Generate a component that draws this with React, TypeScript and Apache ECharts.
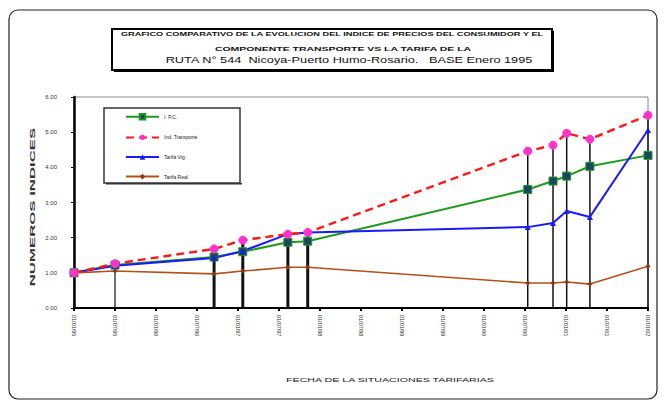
import React, { useEffect, useRef } from "react";
import * as echarts from "echarts";

// Meses transcurridos desde enero 1995 (base) para cada situación tarifaria
const fechasMeses = [0, 6, 20.5, 24.7, 31.3, 34.2, 66.4, 70.1, 72.1, 75.5, 84];
const ipc = [1.0, 1.22, 1.45, 1.6, 1.87, 1.9, 3.37, 3.61, 3.75, 4.03, 4.34];
const indTransporte = [1.0, 1.26, 1.68, 1.93, 2.1, 2.15, 4.46, 4.63, 4.97, 4.8, 5.48];
const tarifaVig = [1.0, 1.2, 1.42, 1.62, 2.1, 2.15, 2.3, 2.42, 2.76, 2.59, 5.06];
const tarifaReal = [1.0, 1.05, 0.97, 1.05, 1.16, 1.16, 0.71, 0.71, 0.74, 0.68, 1.19];

const xTickLabels = [
  "01/01/95", "01/07/95", "01/01/96", "01/07/96", "01/01/97", "01/07/97", "01/01/98", "01/07/98",
  "01/01/99", "01/07/99", "01/01/00", "01/07/00", "01/01/01", "01/07/01", "01/01/02",
];
const seriesNames = ["I. P.C.", "Ind. Transporte", "Tarifa Vig.", "Tarifa Real"];

const titleLines = [
  "GRAFICO COMPARATIVO DE LA EVOLUCION DEL INDICE DE PRECIOS DEL CONSUMIDOR Y EL",
  "COMPONENTE TRANSPORTE VS LA TARIFA DE LA",
  "RUTA N° 544  Nicoya-Puerto Humo-Rosario.   BASE Enero 1995",
];
const xAxisTitle = "FECHA DE LA SITUACIONES TARIFARIAS";
const yAxisTitle = "NUMEROS INDICES";

const dropWidths = [1.2, 1.2, 3, 3, 3, 3, 1.5, 1.5, 1.5, 1.5, 1.5];

export default function App() {
  const ref = useRef<HTMLDivElement>(null);
  useEffect(() => {
    if (!ref.current) return;
    const chart = echarts.init(ref.current, null, { renderer: "svg" });
    const font = "Arial, 'Liberation Sans', sans-serif";
    const mk = (vals: number[]) => fechasMeses.map((m, i) => [m, vals[i]]);
    chart.setOption({
      animation: false,
      backgroundColor: "#fff",
      textStyle: { fontFamily: font },
      grid: {
        left: 74, right: 16, top: 97, bottom: 95,
        show: true, borderColor: "#888", borderWidth: 1, backgroundColor: "transparent",
      },
      xAxis: {
        type: "value", min: 0, max: 84, interval: 6,
        axisLine: { lineStyle: { color: "#000", width: 2 } },
        axisTick: { show: true, length: 3, lineStyle: { color: "#000", width: 2 } },
        splitLine: { show: false },
        axisLabel: {
          rotate: -90, fontSize: 5.5, color: "#333", margin: 7,
          formatter: (v: number) => xTickLabels[Math.round(v / 6)] ?? "",
        },
      },
      yAxis: {
        type: "value", min: 0, max: 6, interval: 1,
        axisLine: { show: true, lineStyle: { color: "#000", width: 2.5 } },
        axisTick: { show: true, length: 3, lineStyle: { color: "#000" } },
        splitLine: { show: false },
        axisLabel: {
          fontSize: 6, color: "#333", margin: 17,
          formatter: (v: number) => v.toFixed(2),
        },
      },
      legend: {
        left: 125, top: 113, orient: "vertical", itemGap: 14,
        itemWidth: 33, itemHeight: 7, padding: 0,
        textStyle: { fontSize: 5, color: "#222" },
        data: seriesNames,
      },
      series: [
        {
          type: "custom", z: 1, silent: true,
          data: mk(indTransporte),
          renderItem: (params: any, api: any) => {
            const top = api.coord([api.value(0), api.value(1)]);
            const base = api.coord([api.value(0), 0]);
            return {
              type: "line",
              shape: { x1: top[0], y1: top[1], x2: base[0], y2: base[1] },
              style: { stroke: "#111", lineWidth: dropWidths[params.dataIndex] },
            };
          },
        },
        {
          name: seriesNames[0], type: "line", z: 3, data: mk(ipc),
          lineStyle: { color: "#1e9a1e", width: 2 },
          symbol: "rect", symbolSize: 8,
          itemStyle: { color: "#1d4460", borderColor: "#1e9a1e", borderWidth: 1 },
        },
        {
          name: seriesNames[1], type: "line", z: 4, data: mk(indTransporte),
          lineStyle: { color: "#ff1a1a", width: 2.5, type: [8, 5] },
          symbol: "circle", symbolSize: 8,
          itemStyle: { color: "#ff33cc", borderColor: "#ff33cc" },
        },
        {
          name: seriesNames[2], type: "line", z: 3, data: mk(tarifaVig),
          lineStyle: { color: "#1a1aff", width: 2 },
          symbol: "triangle", symbolSize: 6,
          itemStyle: { color: "#1a1aff" },
        },
        {
          name: seriesNames[3], type: "line", z: 3, data: mk(tarifaReal),
          lineStyle: { color: "#b5501a", width: 1.6 },
          symbol: "diamond", symbolSize: 5,
          itemStyle: { color: "#8a3a10" },
        },
      ],
      graphic: [
        {
          type: "rect", z: 0,
          shape: { x: 9, y: 10, width: 648, height: 389, r: 9 },
          style: { fill: "none", stroke: "#222", lineWidth: 1.2 },
        },
        {
          type: "rect",
          shape: { x: 112, y: 29, width: 440, height: 41 },
          style: { fill: "#fff", stroke: "#000", lineWidth: 2 },
        },
        {
          type: "rect",
          shape: { x: 114, y: 70, width: 440, height: 2 },
          style: { fill: "#000" },
        },
        {
          type: "rect",
          shape: { x: 552, y: 31, width: 2, height: 40 },
          style: { fill: "#000" },
        },
        {
          type: "text", x: 332, y: 34, scaleX: 1.53,
          style: {
            text: titleLines[0], fontSize: 6, fontWeight: "bold", fill: "#111",
            align: "center", verticalAlign: "middle", fontFamily: font,
          },
        },
        {
          type: "text", x: 343, y: 49, scaleX: 1.74,
          style: {
            text: titleLines[1], fontSize: 6, fontWeight: "bold", fill: "#111",
            align: "center", verticalAlign: "middle", fontFamily: font,
          },
        },
        {
          type: "text", x: 349, y: 59.5, scaleX: 1.5,
          style: {
            text: titleLines[2], fontSize: 8.5, fill: "#111",
            align: "center", verticalAlign: "middle", fontFamily: font,
          },
        },
        {
          type: "rect",
          shape: { x: 104, y: 108, width: 136, height: 75 },
          style: { fill: "none", stroke: "#333", lineWidth: 1.5 },
        },
        {
          type: "rect",
          shape: { x: 106, y: 183, width: 136, height: 1.5 },
          style: { fill: "#333" },
        },
        {
          type: "text", x: 390, y: 380, scaleX: 1.94,
          style: {
            text: xAxisTitle, fontSize: 5.5, fill: "#222",
            align: "center", verticalAlign: "middle", fontFamily: font,
          },
        },
        {
          type: "text", x: 32, y: 207, rotation: Math.PI / 2, scaleX: 2.1,
          style: {
            text: yAxisTitle, fontSize: 8, fontWeight: "bold", fill: "#333",
            align: "center", verticalAlign: "middle", fontFamily: font,
          },
        },
      ],
    });
    return () => chart.dispose();
  }, []);
  return (
    <div
      ref={ref}
      style={{ position: "absolute", left: 0, top: 0, width: 664, height: 403 }}
    />
  );
}
